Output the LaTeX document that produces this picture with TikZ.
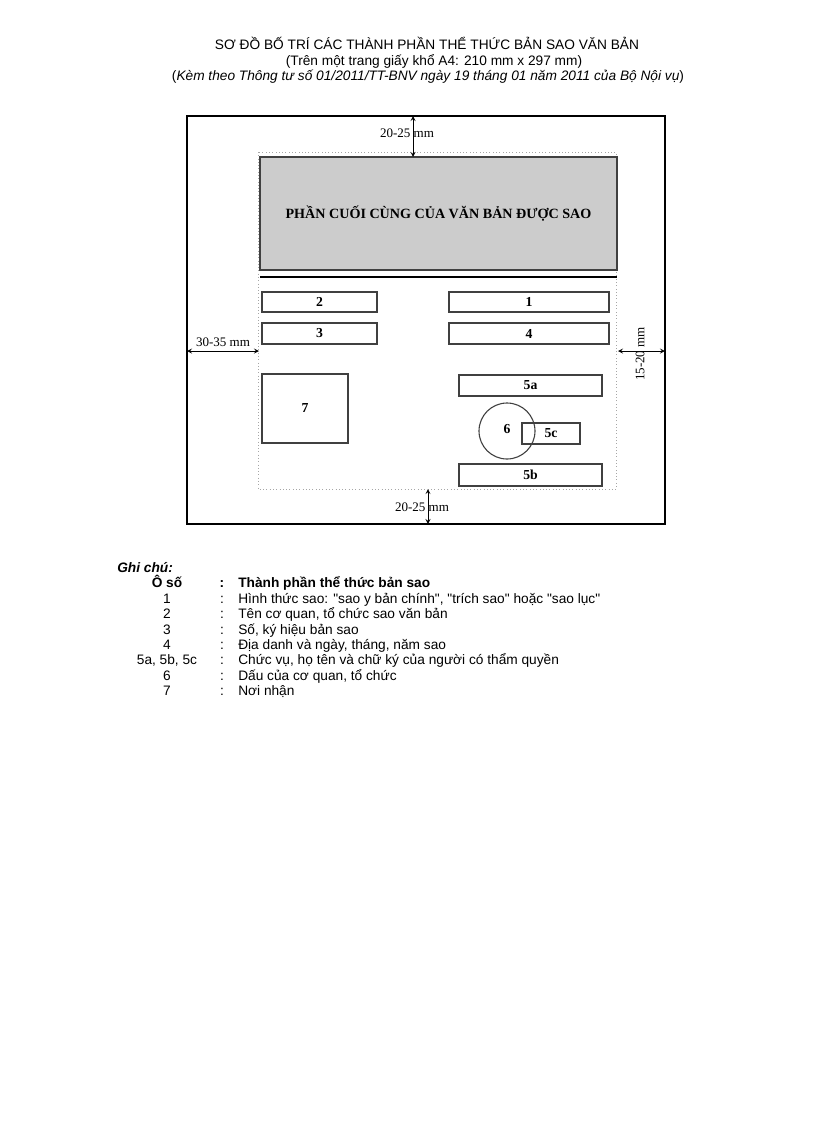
\documentclass[tikz,border=0pt]{standalone}
\usepackage{fontspec}
\setmainfont{Liberation Sans}[Ligatures=TeXOff]
\newfontfamily\scanfont{Liberation Serif}
\usetikzlibrary{positioning}

\begin{document}
\begin{tikzpicture}[x=0.7295pt, y=-0.7295pt,
    box/.style 2 args={draw=black!75, line width=0.8pt, minimum width=#1*0.7295pt,
      minimum height=#2*0.7295pt, inner sep=0pt, font=\scanfont\bfseries\fontsize{10}{12}\selectfont},
    dim/.style={<->, >=stealth, line width=0.6pt},
    dimlabel/.style={font=\scanfont\fontsize{9.5}{11}\selectfont, inner sep=1pt},
    legend/.style={font=\fontsize{10}{12}\selectfont, inner sep=0pt, text height=7.2pt, text depth=2pt}]
  \useasboundingbox (0,0) rectangle (816,1123);
  % heading
  \node[legend] (title) at (427,46) {SƠ ĐỒ BỐ TRÍ CÁC THÀNH PHẦN THỂ THỨC BẢN SAO VĂN BẢN};
  \node[legend] (paper) at (434,62) {(Trên một trang giấy khổ A4: 210 mm x 297 mm)};
  \node[legend] (basis) at (428,77) {(\textit{Kèm theo Thông tư số 01/2011/TT-BNV ngày 19 tháng 01 năm 2011 của Bộ Nội vụ})};

  % sheet and printing area
  \node[draw, line width=1pt, minimum width=478*0.7295pt, minimum height=408*0.7295pt] (sheet) at (426,320) {};
  \draw[black!35, dotted] (258,152) rectangle (616,489);
  \node[box={357}{113}, fill=black!20, font=\scanfont\bfseries\fontsize{10.3}{12}\selectfont] (copied) at (438.5,213.5) {PHẦN CUỐI CÙNG CỦA VĂN BẢN ĐƯỢC SAO};
  \draw[line width=1pt] (260,277) -- (617,277);

  % components
  \node[box={115}{20}] (b2) at (319.5,302) {2};
  \node[box={160}{20}] (b1) at (529,302) {1};
  \node[box={115}{21}] (b3) at (319.5,333.5) {3};
  \node[box={160}{21}] (b4) at (529,333.5) {4};
  \node[box={86}{69}] (b7) at (305,408.5) {7};
  \node[box={143}{21}] (b5a) at (530.5,385.5) {5a};
  \node[box={143}{22}] (b5b) at (530.5,475) {5b};
  \node[draw=black!75, line width=0.8pt, circle, minimum size=56*0.7295pt, inner sep=0pt] (b6) at (507,431) {};
  \node[font=\scanfont\bfseries\fontsize{10}{12}\selectfont] (b6label) at (507,429) {6};
  \node[box={58}{21}] (b5c) at (551,433.5) {5c};

  % margins
  \coordinate (topa) at (413,116);  \coordinate (topb) at (413,157);
  \coordinate (lefta) at (187,351); \coordinate (leftb) at (259,351);
  \coordinate (righta) at (618,351); \coordinate (rightb) at (665,351);
  \coordinate (bota) at (428,489);  \coordinate (botb) at (428,524);
  \draw[dim] (topa) -- (topb);
  \draw[dim] (lefta) -- (leftb);
  \draw[dim] (righta) -- (rightb);
  \draw[dim] (bota) -- (botb);
  \node[dimlabel] (toplabel) at (407,133) {20-25 mm};
  \node[dimlabel] (leftlabel) at (223,342) {30-35 mm};
  \node[dimlabel, rotate=90] (rightlabel) at (640,354) {15-20 mm};
  \node[dimlabel] (botlabel) at (422,507) {20-25 mm};

  % legend
  \node[legend, anchor=west, font=\fontsize{10}{12}\selectfont\bfseries\itshape] (note) at (117,569) {Ghi chú:};
  \node[legend, font=\fontsize{10}{12}\selectfont\bfseries] (numhead) at (167,584) {Ô số};
  \node[legend, font=\fontsize{10}{12}\selectfont\bfseries] (colhead) at (222,584) {:};
  \node[legend, anchor=west, font=\fontsize{10}{12}\selectfont\bfseries] (deschead) at (238,584) {Thành phần thể thức bản sao};
  \foreach \n/\t [count=\i from 0] in {1/{Hình thức sao: "sao y bản chính", "trích sao" hoặc "sao lục"},
      2/{Tên cơ quan, tổ chức sao văn bản}, 3/{Số, ký hiệu bản sao},
      4/{Địa danh và ngày, tháng, năm sao}, {5a, 5b, 5c}/{Chức vụ, họ tên và chữ ký của người có thẩm quyền},
      6/{Dấu của cơ quan, tổ chức}, 7/{Nơi nhận}} {
    \node[legend] (num\i) at (167,600+15.3*\i) {\n};
    \node[legend] (colon\i) at (222,600+15.3*\i) {:};
    \node[legend, anchor=west] (desc\i) at (238,600+15.3*\i) {\t};
  }
\end{tikzpicture}
\end{document}
